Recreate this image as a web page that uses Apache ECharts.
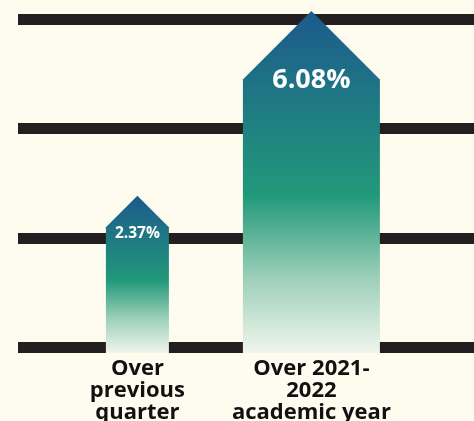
<!DOCTYPE html>
<html>
<head>
<meta charset="utf-8">
<script src="https://cdn.jsdelivr.net/npm/echarts@6/dist/echarts.min.js"></script>
<style>
  html, body { margin: 0; padding: 0; background: #fefcef; }
  #chart { width: 474px; height: 421px; }
</style>
</head>
<body>
<div id="chart"></div>
<script>
// Growth figures shown as arrows
const categories = ['Over\nprevious\nquarter', 'Over 2021-\n2022\nacademic year'];
const growthPct = [2.37, 6.08];

// Arrow appearance per category
const arrowWidths = [63, 137];
const labelSizes = [15.5, 27];
const labelShift = [6, 1];

// Value range of the hidden axis the arrows are measured on
const valueMin = -0.79;
const valueMax = 5.91;

const chart = echarts.init(document.getElementById('chart'), null, { renderer: 'canvas' });

function arrowFill() {
  return new echarts.graphic.LinearGradient(0, 0, 0, 1, [
    { offset: 0, color: '#1c5a8c' },
    { offset: 0.28, color: '#1f7a83' },
    { offset: 0.54, color: '#22997a' },
    { offset: 0.78, color: '#9ccfb9' },
    { offset: 1, color: '#f0f6ec' }
  ]);
}

chart.setOption({
  backgroundColor: '#fefcef',
  animation: false,
  grid: [
    { left: 18, right: 0, top: 19.5, bottom: 74, outerBoundsMode: 'none', containLabel: false },
    { left: 50.4, width: 348, top: 19.5, bottom: 68, outerBoundsMode: 'none', containLabel: false }
  ],
  xAxis: [
    { gridIndex: 0, type: 'value', show: false },
    {
      gridIndex: 1,
      type: 'category',
      data: categories,
      axisLine: { show: false },
      axisTick: { show: false },
      axisLabel: {
        interval: 0,
        margin: 5,
        color: '#111111',
        fontFamily: 'Open Sans',
        fontWeight: 'bold',
        fontSize: 22,
        lineHeight: 22,
        align: 'center'
      }
    }
  ],
  yAxis: [
    {
      gridIndex: 0,
      type: 'value',
      min: 0,
      max: 3,
      interval: 1,
      axisLabel: { show: false },
      axisLine: { show: false },
      axisTick: { show: false },
      splitLine: { show: true, lineStyle: { color: '#231f20', width: 11 } }
    },
    {
      gridIndex: 1,
      type: 'value',
      min: valueMin,
      max: valueMax,
      show: false,
      splitLine: { show: false }
    }
  ],
  series: [
    {
      type: 'custom',
      xAxisIndex: 1,
      yAxisIndex: 1,
      z: 5,
      data: growthPct.map((v, i) => [i, v]),
      renderItem: function (params, api) {
        const i = params.dataIndex;
        const v = api.value(1);
        const tip = api.coord([api.value(0), v]);
        const base = api.coord([api.value(0), valueMin]);
        const half = arrowWidths[i] / 2;
        const shoulder = tip[1] + half;
        return {
          type: 'group',
          children: [
            {
              type: 'polygon',
              shape: {
                points: [
                  [tip[0], tip[1]],
                  [tip[0] + half, shoulder],
                  [tip[0] + half, base[1]],
                  [tip[0] - half, base[1]],
                  [tip[0] - half, shoulder]
                ]
              },
              style: { fill: arrowFill() }
            },
            {
              type: 'text',
              x: tip[0],
              y: shoulder + labelShift[i],
              style: {
                text: v.toFixed(2) + '%',
                fill: '#ffffff',
                fontFamily: 'Open Sans',
                fontWeight: 'bold',
                fontSize: labelSizes[i],
                align: 'center',
                verticalAlign: 'middle'
              }
            }
          ]
        };
      }
    }
  ]
});
</script>
</body>
</html>
